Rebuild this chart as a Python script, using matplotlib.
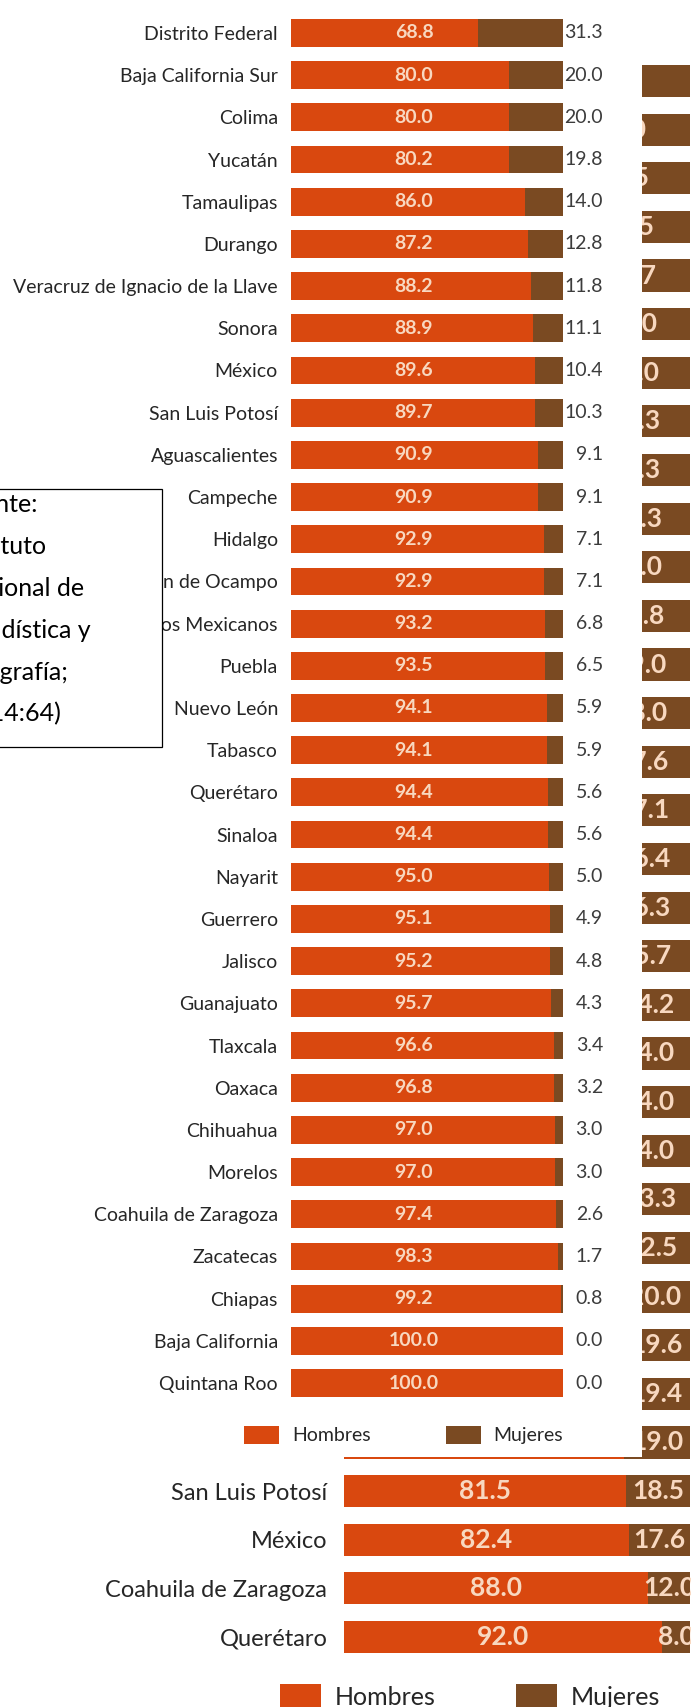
import matplotlib
matplotlib.use('Agg')
import matplotlib.pyplot as plt
from matplotlib.patches import Rectangle

plt.rcParams['font.family'] = ['Lato', 'DejaVu Sans']

# gráfica principal: porcentaje por sexo en cada entidad
estados = ['Distrito Federal', 'Baja California Sur', 'Colima', 'Yucatán', 'Tamaulipas',
           'Durango', 'Veracruz de Ignacio de la Llave', 'Sonora', 'México', 'San Luis Potosí',
           'Aguascalientes', 'Campeche', 'Hidalgo', 'Michoacán de Ocampo',
           'Estados Unidos Mexicanos', 'Puebla', 'Nuevo León', 'Tabasco', 'Querétaro',
           'Sinaloa', 'Nayarit', 'Guerrero', 'Jalisco', 'Guanajuato', 'Tlaxcala', 'Oaxaca',
           'Chihuahua', 'Morelos', 'Coahuila de Zaragoza', 'Zacatecas', 'Chiapas',
           'Baja California', 'Quintana Roo']
hombres = [68.8, 80.0, 80.0, 80.2, 86.0, 87.2, 88.2, 88.9, 89.6, 89.7, 90.9, 90.9, 92.9,
           92.9, 93.2, 93.5, 94.1, 94.1, 94.4, 94.4, 95.0, 95.1, 95.2, 95.7, 96.6, 96.8,
           97.0, 97.0, 97.4, 98.3, 99.2, 100.0, 100.0]
mujeres = [31.3, 20.0, 20.0, 19.8, 14.0, 12.8, 11.8, 11.1, 10.4, 10.3, 9.1, 9.1, 7.1,
           7.1, 6.8, 6.5, 5.9, 5.9, 5.6, 5.6, 5.0, 4.9, 4.8, 4.3, 3.4, 3.2,
           3.0, 3.0, 2.6, 1.7, 0.8, 0.0, 0.0]

# gráfica de fondo (solo se ven las últimas filas)
estados_b = [''] * 29 + ['San Luis Potosí', 'México', 'Coahuila de Zaragoza', 'Querétaro']
hombres_b = [58.0, 60.0, 61.5, 64.5, 65.3, 66.0, 67.0, 67.7, 67.7, 68.7, 69.0, 70.2, 71.0,
             72.0, 72.4, 72.9, 73.6, 73.7, 74.3, 75.8, 76.0, 76.0, 76.0, 76.7, 77.5, 80.0,
             80.4, 80.6, 81.0, 81.5, 82.4, 88.0, 92.0]
mujeres_b = [42.0, 40.0, 38.5, 35.5, 34.7, 34.0, 33.0, 32.3, 32.3, 31.3, 31.0, 29.8, 29.0,
             28.0, 27.6, 27.1, 26.4, 26.3, 25.7, 24.2, 24.0, 24.0, 24.0, 23.3, 22.5, 20.0,
             19.6, 19.4, 19.0, 18.5, 17.6, 12.0, 8.0]

fuente = ['Fuente:', 'Instituto', 'Nacional de', 'Estadística y', 'Geografía;', '(2014:64)']

ROJO = '#D9480F'
CAFE = '#7A4A22'
CLARO = '#F8D8C0'

W, H = 691, 1707
fig = plt.figure(figsize=(W / 100, H / 100), dpi=100)
fig.patch.set_facecolor('white')


def caja(x0, y0, x1, y1):
    # rectangulo en pixeles (y hacia abajo) -> fracción de figura
    return [x0 / W, 1 - y1 / H, (x1 - x0) / W, (y1 - y0) / H]


def barras(ax, cats, h, m, size_lbl, pad):
    n = len(cats)
    y = list(range(n))
    b1 = ax.barh(y, h, height=0.66, color=ROJO)
    b2 = ax.barh(y, m, left=h, height=0.66, color=CAFE)
    ax.set_xlim(0, 100)
    ax.set_ylim(n - 0.5, -0.5)
    ax.set_yticks(y, cats)
    ax.set_xticks([])
    ax.tick_params(axis='y', length=0, pad=pad, labelsize=size_lbl, labelcolor='#262626')
    for s in ax.spines.values():
        s.set_visible(False)
    ax.set_facecolor('none')
    return b1, b2


# fondo
axb = fig.add_axes(caja(344, 56.7, 690, 1661.3))
axb.set_zorder(0)
b1, b2 = barras(axb, estados_b, hombres_b, mujeres_b, 17, 12)
for i, (h, m) in enumerate(zip(hombres_b, mujeres_b)):
    if estados_b[i]:
        axb.text(h / 2, i, f'{h:.1f}', ha='center', va='center', color=CLARO,
                 fontsize=19, fontweight='bold')
    axb.text(h + m / 2, i, f'{m:.1f}', ha='center', va='center', color=CLARO,
             fontsize=19, fontweight='bold', clip_on=False)
axb.legend([b1, b2], ['Hombres', 'Mujeres'], loc='center', ncol=2, frameon=False,
           bbox_to_anchor=(470 / W, 1 - 1697 / H), bbox_transform=fig.transFigure,
           fontsize=18, handlelength=1.64, handleheight=1.2, handletextpad=0.55,
           columnspacing=3.2, labelcolor='#262626')

# panel blanco de la gráfica principal
fig.add_artist(Rectangle((0, 1 - 1457 / H), 642 / W, 1457 / H, transform=fig.transFigure,
                         facecolor='white', edgecolor='none', zorder=1))

ax = fig.add_axes(caja(291, 11.9, 563, 1404.1))
ax.set_zorder(2)
h1, h2 = barras(ax, estados, hombres, mujeres, 14, 9.4)
for i, (h, m) in enumerate(zip(hombres, mujeres)):
    ax.text(45.2, i, f'{h:.1f}', ha='center', va='center', color=CLARO,
            fontsize=14, fontweight='bold')
    ax.text(114.7, i, f'{m:.1f}', ha='right', va='center', color='#3c3c3c',
            fontsize=14, clip_on=False)
ax.legend([h1, h2], ['Hombres', 'Mujeres'], loc='center', ncol=2, frameon=False,
          bbox_to_anchor=(403.5 / W, 1 - 1435 / H), bbox_transform=fig.transFigure,
          fontsize=14, handlelength=1.8, handleheight=1.08, handletextpad=0.67,
          columnspacing=3.86, labelcolor='#262626')

# recuadro de la fuente
fig.add_artist(Rectangle((-20 / W, 1 - 747 / H), 182 / W, 258 / H, transform=fig.transFigure,
                         facecolor='white', edgecolor='black', linewidth=0.9, zorder=3))
for k, linea in enumerate(fuente):
    fig.text(-45 / W, 1 - (504 + 42 * k) / H, linea, ha='left', va='center',
             fontsize=18, color='black', zorder=4)

fig.savefig('out.png', dpi=100)
